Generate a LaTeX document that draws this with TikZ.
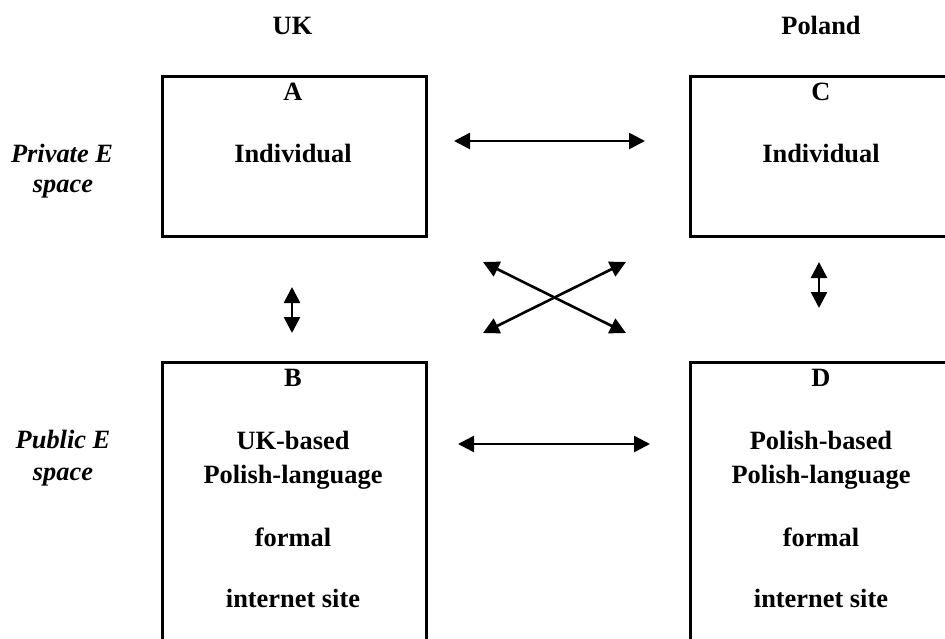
\documentclass[tikz,border=0pt]{standalone}
\usepackage{fontspec}
\setmainfont{Liberation Serif}
\usetikzlibrary{arrows.meta}
\tikzset{
  box/.style={draw, line width=2.7pt, minimum width=264pt, anchor=north west, inner sep=0pt},
  txt/.style={font=\fontsize{26.4}{30}\selectfont\bfseries, anchor=base, inner sep=0pt},
  side/.style={font=\fontsize{26.4}{30}\selectfont\bfseries\itshape, anchor=base, inner sep=0pt},
  twoway/.style={line width=2.6pt, {Triangle[length=16pt,width=16pt]}-{Triangle[length=16pt,width=16pt]}}
}
\begin{document}
\begin{tikzpicture}[x=1pt, y=-1pt]
  \useasboundingbox (0,0) rectangle (945,639);
  \clip (0,0) rectangle (945,639);
  \fill[white] (0,0) rectangle (945,639);

  % column headings
  \node[txt] (uk) at (292.5,35) {UK};
  \node[txt] (pl) at (821,35) {Poland};

  % row headings
  \node[side] (priv1) at (62,163) {Private E};
  \node[side] (priv2) at (63,193) {space};
  \node[side] (pub1) at (63,448) {Public E};
  \node[side] (pub2) at (63,480) {space};

  % boxes
  \node[box, minimum height=160pt] (A) at (161,75) {};
  \node[box, minimum height=160pt] (C) at (689,75) {};
  \node[box, minimum height=300pt] (B) at (161,361) {};
  \node[box, minimum height=300pt] (D) at (689,361) {};

  % box A
  \node[txt] (Alab) at (293,100.7) {A};
  \node[txt] (Atxt) at (293,162.7) {Individual};
  % box C
  \node[txt] (Clab) at (821,100.7) {C};
  \node[txt] (Ctxt) at (821,162.7) {Individual};
  % box B
  \node[txt] (Blab) at (293,386.7) {B};
  \node[txt] (B1) at (293,449) {UK-based};
  \node[txt] (B2) at (293,483) {Polish-language};
  \node[txt] (B3) at (293,546) {formal};
  \node[txt] (B4) at (293,607) {internet site};
  % box D
  \node[txt] (Dlab) at (821,386.7) {D};
  \node[txt] (D1) at (821,449) {Polish-based};
  \node[txt] (D2) at (821,483) {Polish-language};
  \node[txt] (D3) at (821,546) {formal};
  \node[txt] (D4) at (821,607) {internet site};

  % connector end points
  \coordinate (ac1) at (454,141);
  \coordinate (ac2) at (645,141);
  \coordinate (bd1) at (458,444);
  \coordinate (bd2) at (650,444);
  \coordinate (ab1) at (292,287);
  \coordinate (ab2) at (292,333);
  \coordinate (cd1) at (819,262);
  \coordinate (cd2) at (819,308);
  \coordinate (x1) at (483,262);
  \coordinate (x2) at (626,333);
  \coordinate (x3) at (483,333);
  \coordinate (x4) at (626,262);

  % two-way links
  \draw[twoway] (ac1) -- (ac2);
  \draw[twoway] (bd1) -- (bd2);
  \draw[twoway] (ab1) -- (ab2);
  \draw[twoway] (cd1) -- (cd2);
  \draw[twoway] (x1) -- (x2);
  \draw[twoway] (x3) -- (x4);
\end{tikzpicture}
\end{document}
